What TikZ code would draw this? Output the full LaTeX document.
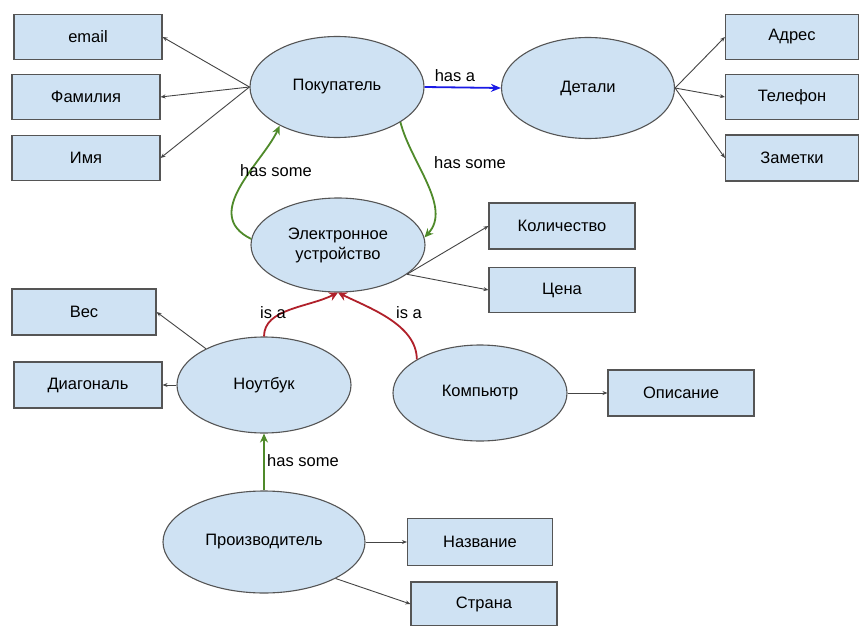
\documentclass[tikz,border=0pt]{standalone}
\usepackage{fontspec}
\setmainfont{Liberation Sans}
\usetikzlibrary{shapes.geometric,arrows.meta}
\definecolor{nodefill}{HTML}{CFE2F3}
\definecolor{nodeline}{HTML}{555555}
\definecolor{linkgray}{HTML}{444444}
\definecolor{hasgreen}{HTML}{4F8A2A}
\definecolor{isred}{HTML}{B0202A}
\definecolor{hasblue}{HTML}{1A1AE6}
\tikzset{
  ell/.style={ellipse, draw=nodeline, fill=nodefill, line width=1.1pt, inner sep=0pt, align=center, font=\fontsize{16.5}{20}\selectfont},
  attr/.style={rectangle, draw=nodeline, fill=nodefill, line width=1.1pt, inner sep=0pt, font=\fontsize{16.5}{20}\selectfont},
  link/.style={draw=linkgray, line width=0.9pt, -{Stealth[length=5pt,width=4pt]}},
  greenlink/.style={draw=hasgreen, line width=1.8pt, -{Stealth[length=9pt,width=8pt]}},
  redlink/.style={draw=isred, line width=1.8pt, -{Stealth[length=9pt,width=9pt]}},
  bluelink/.style={draw=hasblue, line width=1.8pt, -{Stealth[length=10pt,width=8pt]}},
  lbl/.style={font=\fontsize{16.5}{20}\selectfont, inner sep=1pt}
}
\begin{document}
\begin{tikzpicture}[x=1pt,y=-1pt]
\useasboundingbox[fill=white] (0,0) rectangle (860,626);
% ellipses
\node[ell, minimum width=174pt, minimum height=101pt] (pok) at (337,87) {Покупатель};
\node[ell, minimum width=173pt, minimum height=101pt] (det) at (588,88) {Детали};
\node[ell, minimum width=174pt, minimum height=94pt] (eld) at (338,245) {Электронное\\устройство};
\node[ell, minimum width=174pt, minimum height=96pt] (nb) at (264,385) {Ноутбук};
\node[ell, minimum width=174pt, minimum height=96pt] (komp) at (480,393) {Компьютр};
\node[ell, minimum width=202pt, minimum height=102pt] (prod) at (264,542) {Производитель};
% boxes
\node[attr, minimum width=148pt, minimum height=45pt] (email) at (88,37) {email};
\node[attr, minimum width=148pt, minimum height=45pt] (fam) at (86,97) {Фамилия};
\node[attr, minimum width=148pt, minimum height=45pt] (imya) at (86,158) {Имя};
\node[attr, minimum width=133pt, minimum height=45pt] (adr) at (792,37) {Адрес};
\node[attr, minimum width=133pt, minimum height=45pt] (tel) at (792,97) {Телефон};
\node[attr, minimum width=133pt, minimum height=46pt] (zam) at (792,158) {Заметки};
\node[attr, minimum width=146pt, minimum height=46pt] (kol) at (562,226) {Количество};
\node[attr, minimum width=146pt, minimum height=45pt] (cena) at (562,290) {Цена};
\node[attr, minimum width=144pt, minimum height=46pt] (ves) at (84,312) {Вес};
\node[attr, minimum width=148pt, minimum height=46pt] (diag) at (88,385) {Диагональ};
\node[attr, minimum width=146pt, minimum height=46pt] (opis) at (681,393) {Описание};
\node[attr, minimum width=145pt, minimum height=47pt] (nazv) at (480,542) {Название};
\node[attr, minimum width=146pt, minimum height=44pt] (str) at (484,604) {Страна};
% black attribute links
\draw[link] (pok.west) -- (email.east);
\draw[link] (pok.west) -- (fam.east);
\draw[link] (pok.west) -- (imya.east);
\draw[link] (det.east) -- (adr.west);
\draw[link] (det.east) -- (tel.west);
\draw[link] (det.east) -- (zam.west);
\draw[link] (eld.-23) -- (kol.west);
\draw[link] (eld.-23) -- (cena.west);
\draw[link] (nb.148) -- (ves.east);
\draw[link] (nb.west) -- (diag.east);
\draw[link] (komp.east) -- (opis.west);
\draw[link] (prod.east) -- (nazv.west);
\draw[link] (prod.-27) -- (str.west);
% has a
\draw[bluelink] (pok.east) -- (det.west);
\node[lbl] (lhasa) at (455,76) {has a};
% has some curves
\draw[greenlink] (eld.176) .. controls +(-51,-25) and +(-17,37) .. (pok.214);
\node[lbl] (lhs1) at (276,171) {has some};
\draw[greenlink] (pok.-29) .. controls +(10,40) and +(28,-30) .. (eld.5);
\node[lbl] (lhs2) at (470,163) {has some};
\draw[greenlink] (prod.north) -- (nb.south);
\node[lbl] (lhs3) at (303,461) {has some};
% is a curves
\draw[redlink] (nb.north) .. controls +(0,-28) and +(-30,15) .. (eld.south);
\node[lbl] (lisa1) at (273,313) {is a};
\draw[redlink] (komp.152) .. controls +(0,-35) and +(30,15) .. (eld.south);
\node[lbl] (lisa2) at (409,313) {is a};
\end{tikzpicture}
\end{document}
